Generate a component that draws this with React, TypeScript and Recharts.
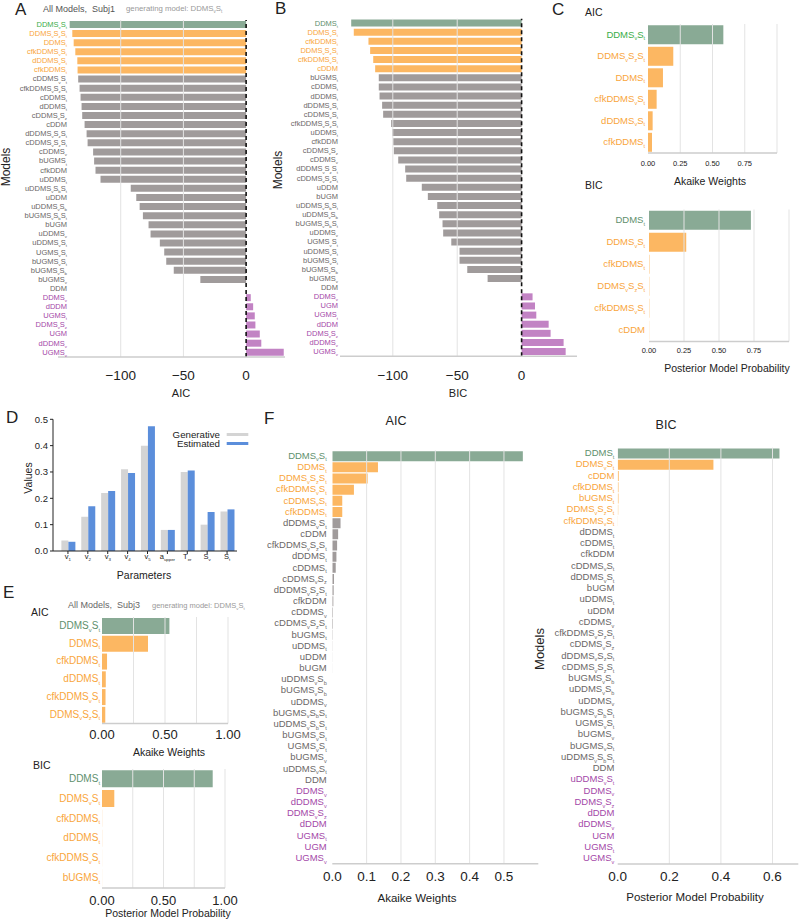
import React from 'react';
import { BarChart, Bar, XAxis, YAxis, Cell, ReferenceLine } from 'recharts';

const FONT = '"Liberation Sans", Arial, sans-serif';

// A: all models, subject 1, AIC difference
const aModels = ['DDMS_vS_t', 'DDMS_vS_zS_t', 'DDMS_t', 'cfkDDMS_vS_t', 'dDDMS_vS_t', 'cfkDDMS_t', 'cDDMS_vS_t', 'cfkDDMS_vS_zS_t', 'cDDMS_t', 'dDDMS_t', 'cDDMS_vS_z', 'cDDM', 'dDDMS_vS_zS_t', 'cDDMS_vS_zS_t', 'cDDMS_v', 'bUGMS_t', 'cfkDDM', 'uDDMS_t', 'uDDMS_vS_bS_t', 'uDDM', 'uDDMS_vS_b', 'bUGMS_vS_bS_t', 'bUGM', 'uDDMS_v', 'uDDMS_vS_t', 'UGMS_vS_t', 'bUGMS_vS_t', 'bUGMS_vS_b', 'bUGMS_v', 'DDM', 'DDMS_v', 'dDDM', 'UGMS_t', 'DDMS_vS_z', 'UGM', 'dDDMS_v', 'UGMS_v'];
const aValues = [-140.7, -138.6, -137.5, -136.2, -134.6, -134.4, -133.9, -132.8, -132, -131.2, -130.7, -128.8, -127.2, -126.4, -122, -121.2, -120.1, -116.1, -92, -87.6, -84.9, -82.3, -77.8, -76.2, -68.8, -65.3, -63.7, -57.7, -36.5, 0, 3.7, 5.6, 6.9, 7.4, 10.9, 12.1, 30];
const aGroupSizes = [1, 5, 24, 7];

// B: BIC difference
const bModels = ['DDMS_t', 'DDMS_vS_t', 'cfkDDMS_t', 'DDMS_vS_zS_t', 'cfkDDMS_vS_t', 'cDDM', 'bUGMS_t', 'cDDMS_t', 'dDDMS_t', 'dDDMS_vS_t', 'cDDMS_vS_t', 'cfkDDMS_vS_zS_t', 'uDDMS_t', 'cfkDDM', 'cDDMS_vS_z', 'cDDMS_v', 'dDDMS_vS_zS_t', 'cDDMS_vS_zS_t', 'uDDM', 'bUGM', 'uDDMS_vS_bS_t', 'uDDMS_vS_b', 'bUGMS_vS_bS_t', 'uDDMS_v', 'UGMS_vS_t', 'uDDMS_vS_t', 'bUGMS_vS_t', 'bUGMS_vS_b', 'bUGMS_v', 'DDM', 'DDMS_v', 'UGM', 'UGMS_t', 'dDDM', 'DDMS_vS_z', 'dDDMS_v', 'UGMS_v'];
const bValues = [-132.3, -130.3, -118.9, -117.6, -115.2, -113.7, -110.9, -110.9, -110.3, -108.3, -107.5, -101.3, -100.5, -99.7, -99.2, -95.8, -90.4, -89.6, -77.5, -72.8, -65.5, -64, -61.4, -60.9, -54.6, -48.2, -48.2, -42.2, -26.4, 0, 8.5, 10.4, 11.4, 21, 22.5, 32.6, 34.2];
const bGroupSizes = [1, 5, 24, 7];

// C: top six
const cAicModels = ['DDMS_vS_t', 'DDMS_vS_zS_t', 'DDMS_t', 'cfkDDMS_vS_t', 'dDDMS_vS_t', 'cfkDDMS_t'];
const cAicValues = [0.584, 0.196, 0.116, 0.067, 0.036, 0.031];
const cBicModels = ['DDMS_t', 'DDMS_vS_t', 'cfkDDMS_t', 'DDMS_vS_zS_t', 'cfkDDMS_vS_t', 'cDDM'];
const cBicValues = [0.728, 0.266, 0.003, 0.002, 0.002, 0.001];
const topGroupSizes = [1, 5, 0, 0];

// D: parameter recovery
const dParams = ['v_1', 'v_2', 'v_3', 'v_4', 'v_5', 'a_{upper}', 'T_{er}', 'S_v', 'S_t'];
const dGenerative = [0.04, 0.13, 0.22, 0.31, 0.4, 0.08, 0.3, 0.1, 0.15];
const dEstimated = [0.035, 0.17, 0.228, 0.296, 0.474, 0.08, 0.306, 0.148, 0.158];
const dTicks = [0, 0.1, 0.2, 0.3, 0.4, 0.5];

// E: subject 3, top six
const eAicModels = ['DDMS_vS_t', 'DDMS_t', 'cfkDDMS_t', 'dDDMS_t', 'cfkDDMS_vS_t', 'DDMS_vS_zS_t'];
const eAicValues = [0.535, 0.365, 0.04, 0.03, 0.028, 0.026];
const eBicModels = ['DDMS_t', 'DDMS_vS_t', 'cfkDDMS_t', 'dDDMS_t', 'cfkDDMS_vS_t', 'bUGMS_t'];
const eBicValues = [0.9, 0.1, 0.001, 0.001, 0.0005, 0.0005];

// F: all models, weights
const fAicModels = ['DDMS_vS_t', 'DDMS_t', 'DDMS_vS_zS_t', 'cfkDDMS_vS_t', 'cDDMS_vS_t', 'cfkDDMS_t', 'dDDMS_vS_t', 'cDDM', 'cfkDDMS_vS_zS_t', 'dDDMS_t', 'cDDMS_t', 'cDDMS_vS_z', 'dDDMS_vS_zS_t', 'cfkDDM', 'cDDMS_v', 'cDDMS_vS_zS_t', 'bUGMS_t', 'uDDMS_t', 'uDDM', 'bUGM', 'uDDMS_vS_b', 'bUGMS_vS_b', 'uDDMS_v', 'bUGMS_vS_bS_t', 'uDDMS_vS_bS_t', 'bUGMS_vS_t', 'UGMS_vS_t', 'bUGMS_v', 'uDDMS_vS_t', 'DDM', 'DDMS_v', 'dDDMS_v', 'DDMS_vS_z', 'dDDM', 'UGMS_t', 'UGM', 'UGMS_v'];
const fAicValues = [0.555, 0.133, 0.103, 0.063, 0.029, 0.029, 0.024, 0.017, 0.014, 0.012, 0.01, 0.005, 0.004, 0.003, 0.002, 0.002, 0.001, 0.0005, 0.0003, 0.0002, 0, 0, 0, 0, 0, 0, 0, 0, 0, 0, 0, 0, 0, 0, 0, 0, 0];
const fAicGroupSizes = [1, 5, 24, 7];
const fBicModels = ['DDMS_t', 'DDMS_vS_t', 'cDDM', 'cfkDDMS_t', 'bUGMS_t', 'DDMS_vS_zS_t', 'cfkDDMS_vS_t', 'dDDMS_t', 'cDDMS_t', 'cfkDDM', 'cDDMS_vS_t', 'dDDMS_vS_t', 'bUGM', 'uDDMS_t', 'uDDM', 'cDDMS_v', 'cfkDDMS_vS_zS_t', 'cDDMS_vS_z', 'dDDMS_vS_zS_t', 'cDDMS_vS_zS_t', 'bUGMS_vS_b', 'uDDMS_vS_b', 'uDDMS_v', 'bUGMS_vS_bS_t', 'UGMS_vS_t', 'bUGMS_v', 'bUGMS_vS_t', 'uDDMS_vS_bS_t', 'DDM', 'uDDMS_vS_t', 'DDMS_v', 'DDMS_vS_z', 'dDDM', 'dDDMS_v', 'UGM', 'UGMS_t', 'UGMS_v'];
const fBicValues = [0.627, 0.371, 0.004, 0.003, 0.003, 0.002, 0.001, 0, 0, 0, 0, 0, 0, 0, 0, 0, 0, 0, 0, 0, 0, 0, 0, 0, 0, 0, 0, 0, 0, 0, 0, 0, 0, 0, 0, 0, 0];
const fBicGroupSizes = [1, 6, 22, 8];

const BAR_COLORS = ['#89aa95', '#fcb762', '#a09b9b', '#c283c4'];
const LABEL_COLORS = ['#5e8f6d', '#f9a53b', '#6b6767', '#a448a8'];
const BRIGHT_GREEN = '#3aad48';

function toRows(models: string[], values: number[], sizes: number[]) {
  const groups: number[] = [];
  sizes.forEach((n, g) => {
    for (let i = 0; i < n; i++) groups.push(g);
  });
  return models.map((name, i) => ({ name, value: values[i], group: groups[i] }));
}

// "DDMS_vS_t" -> DDMS with subscripts; "_{er}" for longer ones
function subSpans(label: string, fs: number) {
  const out: React.ReactNode[] = [];
  const shift = fs * 0.28;
  let buf = '';
  let lowered = false;
  const flush = () => {
    if (!buf) return;
    out.push(<tspan key={out.length} dy={lowered ? -shift : 0}>{buf}</tspan>);
    lowered = false;
    buf = '';
  };
  let i = 0;
  while (i < label.length) {
    const c = label[i];
    if (c === '_') {
      flush();
      let sub;
      if (label[i + 1] === '{') {
        const end = label.indexOf('}', i);
        sub = label.slice(i + 2, end);
        i = end + 1;
      } else {
        sub = label[i + 1];
        i += 2;
      }
      out.push(<tspan key={out.length} fontSize={fs * 0.58} dy={lowered ? 0 : shift}>{sub}</tspan>);
      lowered = true;
    } else {
      buf += c;
      i++;
    }
  }
  flush();
  return out;
}

type ModelChartProps = {
  rows: { name: string; value: number; group: number }[];
  left: number; top: number; width: number; height: number;
  yWidth: number; marginTop: number; marginRight: number; xh: number;
  domain: [number, number]; ticks: number[]; fmt: (v: number) => string;
  grid: number[]; labelRight: number; labelFs: number; tickFs: number; tickY: number;
  bestColor: string; gap: string; zeroLine?: boolean;
};

function ModelChart(p: ModelChartProps) {
  const colors = [p.bestColor, ...LABEL_COLORS.slice(1)];
  const byName: Record<string, number> = {};
  p.rows.forEach((r) => { byName[r.name] = r.group; });

  const yTick = (props: any) => {
    const name = props.payload.value;
    return (
      <text x={p.labelRight} y={props.y + p.labelFs * 0.3} textAnchor="end" fontSize={p.labelFs}
        fill={colors[byName[name]]} fontFamily={FONT}>
        {subSpans(name, p.labelFs)}
      </text>
    );
  };
  const xTick = (props: any) => (
    <text x={props.x} y={p.tickY} textAnchor="middle" fontSize={p.tickFs} fill="#222" fontFamily={FONT}>
      {p.fmt(props.payload.value)}
    </text>
  );

  return (
    <div style={{ position: 'absolute', left: p.left, top: p.top }}>
      <BarChart layout="vertical" width={p.width} height={p.height} data={p.rows}
        margin={{ top: p.marginTop, right: p.marginRight, bottom: 0, left: 0 }} barCategoryGap={p.gap}>
        <XAxis type="number" domain={p.domain} ticks={p.ticks} allowDataOverflow interval={0}
          tickLine={false} axisLine={{ stroke: '#cdcdcd', strokeWidth: 1.5 }} tick={xTick} height={p.xh} />
        <YAxis type="category" dataKey="name" width={p.yWidth} interval={0}
          axisLine={false} tickLine={false} tick={yTick} />
        {p.grid.map((v) => (
          <ReferenceLine key={v} x={v} stroke="#e3e3e3" strokeWidth={1} />
        ))}
        <Bar dataKey="value" isAnimationActive={false}>
          {p.rows.map((r, i) => (
            <Cell key={i} fill={BAR_COLORS[r.group]} />
          ))}
        </Bar>
        {p.zeroLine && <ReferenceLine x={0} stroke="#111" strokeWidth={1.6} strokeDasharray="4 3" />}
      </BarChart>
    </div>
  );
}

const fmtInt = (v: number) => String(v).replace('-', '\u2212');
const fmt1 = (v: number) => v.toFixed(1);
const fmt2 = (v: number) => v.toFixed(2);

function ParamChart() {
  const rows = dParams.map((name, i) => ({ name, generative: dGenerative[i], estimated: dEstimated[i] }));
  const xTick = (props: any) => (
    <text x={props.x} y={159} textAnchor="middle" fontSize={7.5} fill="#222" fontFamily={FONT}>
      {subSpans(props.payload.value, 7.5)}
    </text>
  );
  const yTick = (props: any) => (
    <text x={48} y={props.y + 3.3} textAnchor="end" fontSize={9.5} fill="#222" fontFamily={FONT}>
      {props.payload.value.toFixed(1)}
    </text>
  );
  return (
    <div style={{ position: 'absolute', left: 0, top: 400 }}>
      <BarChart width={239} height={181} data={rows} margin={{ top: 19.3, right: 2, bottom: 0, left: 0 }}
        barCategoryGap="17%" barGap={0}>
        <XAxis dataKey="name" interval={0} padding={{ left: 5, right: 0 }} height={30}
          axisLine={{ stroke: '#222' }} tickLine={{ stroke: '#222' }} tickSize={3} tick={xTick} />
        <YAxis width={53} domain={[0, 0.5]} ticks={dTicks} allowDataOverflow
          axisLine={{ stroke: '#222' }} tickLine={{ stroke: '#222' }} tickSize={3} tick={yTick} />
        <Bar dataKey="generative" fill="#d4d4d4" isAnimationActive={false} />
        <Bar dataKey="estimated" fill="#5b8edb" isAnimationActive={false} />
      </BarChart>
    </div>
  );
}

const T = (props: any) => <text fontFamily={FONT} fill="#222" {...props} />;

export default function App() {
  return (
    <div style={{ position: 'absolute', left: 0, top: 0, width: 800, height: 920, background: '#fff', fontFamily: FONT }}>
      <ModelChart rows={toRows(aModels, aValues, aGroupSizes)} left={0} top={0} width={290} height={387}
        yWidth={58} marginTop={20} marginRight={5} xh={30} domain={[-150, 31]} ticks={[-100, -50, 0]}
        fmt={fmtInt} grid={[-100, -50]} labelRight={67} labelFs={7.5} tickFs={13.5} tickY={380}
        bestColor={BRIGHT_GREEN} gap="10%" zeroLine />
      <ModelChart rows={toRows(bModels, bValues, bGroupSizes)} left={260} top={0} width={322} height={386.3}
        yWidth={80} marginTop={18.7} marginRight={5} xh={30} domain={[-141, 43]} ticks={[-100, -50, 0]}
        fmt={fmtInt} grid={[-100, -50]} labelRight={78} labelFs={7.5} tickFs={13.5} tickY={380}
        bestColor={LABEL_COLORS[0]} gap="10%" zeroLine />
      <ModelChart rows={toRows(cAicModels, cAicValues, topGroupSizes)} left={540} top={0} width={243} height={173}
        yWidth={108} marginTop={24} marginRight={6} xh={20} domain={[0, 1]} ticks={[0, 0.25, 0.5, 0.75]}
        fmt={fmt2} grid={[0.25, 0.5, 0.75, 1]} labelRight={105} labelFs={9.5} tickFs={7.5} tickY={165.6}
        bestColor={BRIGHT_GREEN} gap="6%" />
      <ModelChart rows={toRows(cBicModels, cBicValues, topGroupSizes)} left={540} top={200} width={255} height={161.5}
        yWidth={109} marginTop={9.5} marginRight={6} xh={20} domain={[0, 1]} ticks={[0, 0.25, 0.5, 0.75]}
        fmt={fmt2} grid={[0.25, 0.5, 0.75, 1]} labelRight={105} labelFs={9.5} tickFs={7.5} tickY={152.6}
        bestColor={LABEL_COLORS[0]} gap="6%" />
      <ParamChart />
      <ModelChart rows={toRows(eAicModels, eAicValues, topGroupSizes)} left={0} top={600} width={252} height={153.5}
        yWidth={102} marginTop={17} marginRight={24} xh={30} domain={[0, 1]} ticks={[0, 0.5, 1]}
        fmt={fmt2} grid={[0.25, 0.5, 0.75, 1]} labelRight={100} labelFs={10} tickFs={13} tickY={138.5}
        bestColor={LABEL_COLORS[0]} gap="6%" />
      <ModelChart rows={toRows(eBicModels, eBicValues, topGroupSizes)} left={0} top={760} width={249} height={158}
        yWidth={102} marginTop={9} marginRight={24} xh={30} domain={[0, 1]} ticks={[0, 0.5, 1]}
        fmt={fmt2} grid={[0.25, 0.5, 0.75, 1]} labelRight={100} labelFs={10} tickFs={13} tickY={144.5}
        bestColor={LABEL_COLORS[0]} gap="6%" />
      <ModelChart rows={toRows(fAicModels, fAicValues, fAicGroupSizes)} left={240} top={440} width={302.3} height={453.7}
        yWidth={92.3} marginTop={10.4} marginRight={4} xh={30} domain={[0, 0.6]} ticks={[0, 0.1, 0.2, 0.3, 0.4, 0.5]}
        fmt={fmt1} grid={[0.1, 0.2, 0.3, 0.4, 0.5]} labelRight={86.7} labelFs={9.5} tickFs={13.5} tickY={440.7}
        bestColor={LABEL_COLORS[0]} gap="6.5%" />
      <ModelChart rows={toRows(fBicModels, fBicValues, fBicGroupSizes)} left={540} top={440} width={260} height={454}
        yWidth={77.7} marginTop={7.7} marginRight={1.7} xh={30} domain={[0, 0.7]} ticks={[0, 0.2, 0.4, 0.6]}
        fmt={fmt1} grid={[0.2, 0.4, 0.6]} labelRight={74.3} labelFs={9.5} tickFs={13.5} tickY={440.7}
        bestColor={LABEL_COLORS[0]} gap="6.5%" />

      <svg width={800} height={920} style={{ position: 'absolute', left: 0, top: 0, pointerEvents: 'none' }}>
        {/* panel letters */}
        <T x={15} y={15} fontSize={17}>A</T>
        <T x={275} y={14} fontSize={17}>B</T>
        <T x={552} y={15} fontSize={17}>C</T>
        <T x={6} y={423} fontSize={17}>D</T>
        <T x={3} y={598} fontSize={17}>E</T>
        <T x={264} y={424} fontSize={17}>F</T>

        {/* A / B */}
        <T x={43} y={12} fontSize={9} fill="#555" style={{ whiteSpace: 'pre' }}>All Models,  Subj1</T>
        <T x={126} y={11} fontSize={7.8} fill="#999">{subSpans('generating model: DDMS_vS_t', 7.8)}</T>
        <T x={181} y={397} fontSize={11} textAnchor="middle">AIC</T>
        <T x={458} y={397} fontSize={11} textAnchor="middle">BIC</T>
        <T transform="translate(10,167) rotate(-90)" fontSize={12} textAnchor="middle">Models</T>
        <T transform="translate(282,170) rotate(-90)" fontSize={12} textAnchor="middle">Models</T>

        {/* C */}
        <T x={585} y={16} fontSize={10.5}>AIC</T>
        <T x={710} y={185} fontSize={10.5} textAnchor="middle">Akaike Weights</T>
        <T x={585} y={189} fontSize={10.5}>BIC</T>
        <T x={727} y={372} fontSize={10.5} textAnchor="middle">Posterior Model Probability</T>

        {/* D */}
        <T transform="translate(32,478) rotate(-90)" fontSize={10.5} textAnchor="middle">Values</T>
        <T x={144} y={579} fontSize={10.5} textAnchor="middle">Parameters</T>
        <T x={220} y={438.4} fontSize={9.7} textAnchor="end">Generative</T>
        <line x1={226.7} x2={248.3} y1={434.5} y2={434.5} stroke="#d4d4d4" strokeWidth={3} />
        <T x={220} y={447.4} fontSize={9.7} textAnchor="end">Estimated</T>
        <line x1={226.7} x2={248.3} y1={443.5} y2={443.5} stroke="#5b8edb" strokeWidth={3} />

        {/* E */}
        <T x={31} y={615.5} fontSize={10.5}>AIC</T>
        <T x={68} y={608} fontSize={9} fill="#666" style={{ whiteSpace: 'pre' }}>All Models,  Subj3</T>
        <T x={152} y={607.5} fontSize={7.5} fill="#999">{subSpans('generating model: DDMS_vS_t', 7.5)}</T>
        <T x={169} y={756} fontSize={10.5} textAnchor="middle">Akaike Weights</T>
        <T x={33} y={769} fontSize={10.5}>BIC</T>
        <T x={168} y={917} fontSize={10.5} textAnchor="middle">Posterior Model Probability</T>

        {/* F */}
        <T x={396} y={424.5} fontSize={12.5} textAnchor="middle">AIC</T>
        <T x={666} y={428.5} fontSize={12.5} textAnchor="middle">BIC</T>
        <T x={417} y={902} fontSize={11.5} textAnchor="middle">Akaike Weights</T>
        <T x={695} y={901} fontSize={11.5} textAnchor="middle">Posterior Model Probability</T>
        <T transform="translate(544,649) rotate(-90)" fontSize={13} textAnchor="middle">Models</T>
      </svg>
    </div>
  );
}
